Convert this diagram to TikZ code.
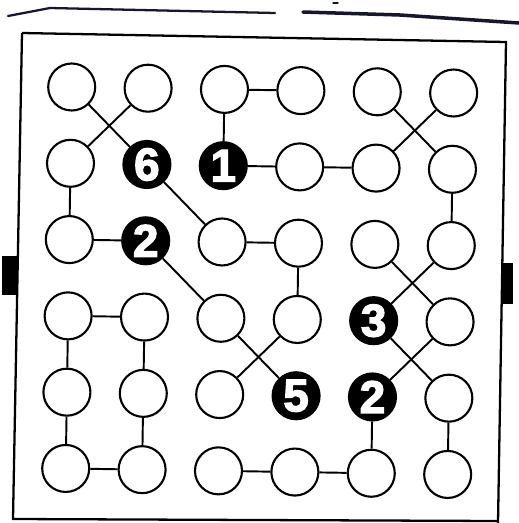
\documentclass[tikz,border=0pt]{standalone}
\usepackage{fontspec}
\newfontfamily\cluefont{Liberation Sans Bold}[FakeBold=3]
\definecolor{scanink}{HTML}{16162E}
\tikzset{
  cell/.style={circle, draw=black, fill=white, line width=1.2pt,
    minimum size=9.4mm, inner sep=0pt},
  clue/.style={cell, fill=black, text=white,
    font=\cluefont\fontsize{26}{26}\selectfont},
  link/.style={line width=1.1pt, black},
  frameline/.style={line width=1.3pt, black},
  pageedge/.style={line width=1.3pt, scanink, line cap=round},
}
\begin{document}
\begin{tikzpicture}[x=0.2mm, y=-0.2mm]
\useasboundingbox (0,0) rectangle (519,523);

% -- page edge above the puzzle --------------------------------
\draw[pageedge] (8,16) -- (50,8) -- (275,13);
\draw[pageedge, line width=2pt] (303,12) -- (400,15) -- (519,23);
\draw[pageedge, line width=0.8pt] (333,3) -- (338,3);

% -- puzzle frame and side tabs --------------------------------
\draw[frameline] (22,33) -- (506,42) -- (498,523);
\draw[frameline] (22,33) -- (13,519) -- (498,521);
\fill[black] (2,256) rectangle (17,295);
\fill[black] (503,263) rectangle (513,304);

\begin{scope}[shift={(71.7,87)}, rotate=-0.9, x=15.28mm, y=-15.26mm]

% -- row a -----------------------------------------------------
\node[cell] (a1) at (0,0) {};
\node[cell] (a2) at (1,0) {};
\node[cell] (a3) at (2,0) {};
\node[cell] (a4) at (3,0) {};
\node[cell] (a5) at (4,0) {};
\node[cell] (a6) at (5,0) {};

% -- row b -----------------------------------------------------
\node[cell] (b1) at (0,1) {};
\node[clue] (b2) at (1,1) {6};
\node[clue] (b3) at (2,1) {1};
\node[cell] (b4) at (3,1) {};
\node[cell] (b5) at (4,1) {};
\node[cell] (b6) at (5,1) {};

% -- row c -----------------------------------------------------
\node[cell] (c1) at (0,2) {};
\node[clue] (c2) at (1,2) {2};
\node[cell] (c3) at (2,2) {};
\node[cell] (c4) at (3,2) {};
\node[cell] (c5) at (4,2) {};
\node[cell] (c6) at (5,2) {};

% -- row d -----------------------------------------------------
\node[cell] (d1) at (0,3) {};
\node[cell] (d2) at (1,3) {};
\node[cell] (d3) at (2,3) {};
\node[cell] (d4) at (3,3) {};
\node[clue] (d5) at (4,3) {3};
\node[cell] (d6) at (5,3) {};

% -- row e -----------------------------------------------------
\node[cell] (e1) at (0,4) {};
\node[cell] (e2) at (1,4) {};
\node[cell] (e3) at (2,4) {};
\node[clue] (e4) at (3,4) {5};
\node[clue] (e5) at (4,4) {2};
\node[cell] (e6) at (5,4) {};

% -- row f -----------------------------------------------------
\node[cell] (f1) at (0,5) {};
\node[cell] (f2) at (1,5) {};
\node[cell] (f3) at (2,5) {};
\node[cell] (f4) at (3,5) {};
\node[cell] (f5) at (4,5) {};
\node[cell] (f6) at (5,5) {};

% -- links -----------------------------------------------------
\draw[link] (a3) -- (a4);
\draw[link] (a1) -- (b2);
\draw[link] (a2) -- (b1);
\draw[link] (a3) -- (b3);
\draw[link] (a5) -- (b6);
\draw[link] (a6) -- (b5);

\draw[link] (b3) -- (b4);
\draw[link] (b4) -- (b5);
\draw[link] (b1) -- (c1);
\draw[link] (b2) -- (c3);
\draw[link] (b6) -- (c6);

\draw[link] (c1) -- (c2);
\draw[link] (c3) -- (c4);
\draw[link] (c2) -- (d3);
\draw[link] (c4) -- (d4);
\draw[link] (c5) -- (d6);
\draw[link] (c6) -- (d5);

\draw[link] (d1) -- (d2);
\draw[link] (d1) -- (e1);
\draw[link] (d2) -- (e2);
\draw[link] (d3) -- (e4);
\draw[link] (d4) -- (e3);
\draw[link] (d5) -- (e6);
\draw[link] (d6) -- (e5);

\draw[link] (e1) -- (f1);
\draw[link] (e2) -- (f2);
\draw[link] (e5) -- (f5);
\draw[link] (e6) -- (f6);

\draw[link] (f1) -- (f2);
\draw[link] (f3) -- (f4);
\draw[link] (f4) -- (f5);

\end{scope}
\end{tikzpicture}
\end{document}
